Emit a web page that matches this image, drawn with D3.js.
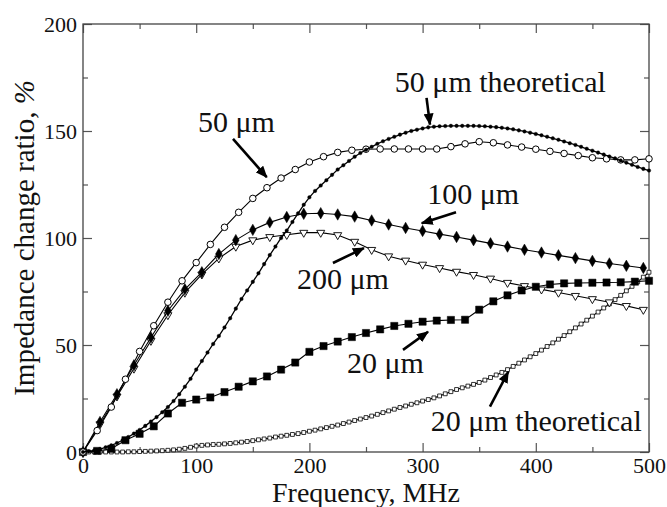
<!DOCTYPE html>
<html><head><meta charset="utf-8">
<script src="https://cdn.jsdelivr.net/npm/d3@7"></script>
<style>
body{margin:0;background:#fff}
svg{display:block}
svg text{font-family:"Liberation Serif","Times New Roman",Tinos,Times,"DejaVu Serif","Noto Serif",serif !important;fill:#111}
</style>
</head><body>
<svg id="c" width="667" height="507"></svg>
<script>
// ---------- data ----------
const xTicks = [0,100,200,300,400,500];
const yTicks = [0,50,100,150,200];
const xMinor = [50,150,250,350,450];
const yMinor = [25,75,125,175];

const freqA = [0,12.5,25,37.5,50,62.5,75,87.5,100,112.5,125,137.5,150,162.5,175,187.5,200,212.5,225,237.5,250,262.5,275,287.5,300,312.5,325,337.5,350,362.5,375,387.5,400,412.5,425,437.5,450,462.5,475,487.5,500];
const um50 = [0,10,21,34,47,59,70,80,88.5,97,105,112,118.5,123.5,128,132,135.5,138,140,141,141.5,141.6,141.6,141.6,141.6,141.6,142.7,144,145,144.5,143.5,142.5,141.5,140.5,139.5,138.5,137.5,137,136.5,136.5,137];
const um20 = [0,0.5,1.5,5.5,8.5,12,18,23,24.5,25.5,28,30.5,33,35.3,38.5,41.8,46.8,49.5,51.6,53.7,55.6,57.3,58.9,59.9,60.9,61.4,61.7,61.8,66.5,70.4,73.2,75.5,77.2,78.3,78.8,79,79.1,79.2,79.3,79.6,80];

const freqB = [0,15,30,45,60,75,90,105,120,135,150,165,180,195,210,225,240,255,270,285,300,315,330,345,360,375,390,405,420,435,450,465,480,495];
const um100 = [0,14,27,40.5,53.5,66,76,84,92.5,99,103.8,107.3,109.8,111.3,111.6,111,110,108.2,106.3,104.7,103.3,101.8,100.5,99,97.5,96,94.5,93.2,91.9,90.6,89.3,88.1,87,86];
const um200 = [0,13,26,39,52,64,74.5,83,90.5,96,99,100.5,101.5,102.5,102.5,101.4,98.3,94.5,91.5,89.5,87.6,86,84.3,82.8,81.1,79.1,77.6,76,74.5,73,71.5,70,68.3,66.5];

const freqC = [0,5,10,15,20,25,30,35,40,45,50,55,60,65,70,75,80,85,90,95,100,105,110,115,120,125,130,135,140,145,150,155,160,165,170,175,180,185,190,195,200,205,210,215,220,225,230,235,240,245,250,255,260,265,270,275,280,285,290,295,300,305,310,315,320,325,330,335,340,345,350,355,360,365,370,375,380,385,390,395,400,405,410,415,420,425,430,435,440,445,450,455,460,465,470,475,480,485,490,495,500];
const um50theory = [0,0.3,0.8,1.4,2.2,3.1,4.2,5.5,7,8.6,
  10.3,12.2,14.2,16.3,18.6,21,23.8,27,30.5,34.2,
  38.5,42.5,46.5,50.5,54.2,58.2,62.5,67,71.5,75.5,
  79.5,83.5,87.8,92,96,100,103.5,107.5,111.5,115.5,
  119,122,124.5,127,129.5,132,134,136,138,139.7,
  141.2,142.6,144,145.2,146.3,147.3,148.3,149.2,150,150.6,
  151.2,151.7,152,152.2,152.3,152.4,152.4,152.4,152.4,152.4,
  152.3,152.2,152,151.8,151.5,151.2,150.8,150.3,149.8,149.2,
  148.6,148,147.3,146.6,145.9,145.1,144.3,143.5,142.6,141.7,
  140.8,139.9,139,138.1,137.2,136.2,135.2,134.2,133.2,132.3,
  131.5];
const um20theory = [0,0,0,0,0,0,0,0,0.1,0.1,
  0.2,0.3,0.4,0.5,0.6,0.8,1,1.3,1.7,2.2,
  2.8,3.1,3.3,3.5,3.6,3.8,4,4.3,4.6,4.9,
  5.3,5.7,6.1,6.5,7,7.4,7.8,8.2,8.6,9.1,
  9.7,10.2,10.8,11.4,12,12.6,13.3,14,14.7,15.4,
  16.1,16.8,17.6,18.4,19.2,20,20.8,21.5,22.3,23,
  23.8,24.5,25.3,26.2,27.2,28.2,29.2,30,30.8,31.6,
  32.5,33.6,34.8,36,37.2,38.5,40,41.5,43,44.5,
  46,47.6,49.3,51,52.7,54.4,56.2,58,59.8,61.6,
  63.5,65.4,67.3,69.2,71.2,73.2,75.3,77.4,79.5,81.7,
  84];

const labels = ["50 \u03bcm","50 \u03bcm theoretical","100 \u03bcm","200 \u03bcm","20 \u03bcm","20 \u03bcm theoretical"];

// ---------- layout ----------
const FONT = '"Liberation Serif","Times New Roman",Tinos,Times,"DejaVu Serif","Noto Serif",serif';
const L = 83, R = 649, T = 24, B = 452;
const svg = d3.select("#c");
const x = d3.scaleLinear().domain([0,500]).range([L,R]);
const y = d3.scaleLinear().domain([0,200]).range([B,T]);

// axes (inward ticks on all sides)
svg.append("g").attr("transform",`translate(0,${B})`)
  .call(d3.axisBottom(x).tickValues(xTicks).tickSize(-9).tickPadding(5).tickFormat(d3.format("d")));
svg.append("g").attr("transform",`translate(${L},0)`)
  .call(d3.axisLeft(y).tickValues(yTicks).tickSize(-9).tickPadding(6).tickFormat(d3.format("d")));
svg.append("g").attr("transform",`translate(0,${B})`).call(d3.axisBottom(x).tickValues(xMinor).tickSize(-5).tickFormat(""));
svg.append("g").attr("transform",`translate(${L},0)`).call(d3.axisLeft(y).tickValues(yMinor).tickSize(-5).tickFormat(""));
svg.append("g").attr("transform",`translate(0,${T})`).call(d3.axisTop(x).tickValues(xTicks).tickSize(-9).tickFormat(""));
svg.append("g").attr("transform",`translate(0,${T})`).call(d3.axisTop(x).tickValues(xMinor).tickSize(-5).tickFormat(""));
svg.append("g").attr("transform",`translate(${R},0)`).call(d3.axisRight(y).tickValues(yTicks).tickSize(-9).tickFormat(""));
svg.append("g").attr("transform",`translate(${R},0)`).call(d3.axisRight(y).tickValues(yMinor).tickSize(-5).tickFormat(""));
svg.selectAll("g").attr("font-family",FONT);
svg.selectAll(".domain").remove();
svg.selectAll(".tick line").attr("stroke","#555").attr("stroke-width",1.2);
svg.selectAll(".tick text").attr("font-size",22).attr("font-family",FONT).attr("fill","#111");

svg.append("rect").attr("x",L).attr("y",T).attr("width",R-L).attr("height",B-T)
  .attr("fill","none").attr("stroke","#444").attr("stroke-width",1.3);

// axis titles
svg.append("text").attr("x",(L+R)/2).attr("y",502).attr("text-anchor","middle")
  .attr("font-family",FONT).attr("font-size",28).text("Frequency, MHz");
const yt = svg.append("text").attr("transform",`translate(34,${(T+B)/2}) rotate(-90)`)
  .attr("text-anchor","middle").attr("font-family",FONT).attr("font-size",29);
yt.append("tspan").text("Impedance change ratio, ");
yt.append("tspan").attr("font-style","italic").text("%");

// ---------- series ----------
const lineGen = d3.line().x(d=>x(d[0])).y(d=>y(d[1]));
function series(fr, vals, sym, opts){
  const pts = fr.map((f,i)=>[f,vals[i]]);
  const g = svg.append("g");
  g.append("path").datum(pts).attr("d",lineGen).attr("fill","none")
    .attr("stroke","#000").attr("stroke-width",opts.lw||1.1);
  g.selectAll("path.m").data(pts).join("path").attr("class","m")
    .attr("d", d3.symbol().type(sym).size(opts.size))
    .attr("transform", d=>`translate(${x(d[0])},${y(d[1])})${opts.rot?" rotate(180)":""}`)
    .attr("fill", opts.fill).attr("stroke","#000").attr("stroke-width",opts.sw||1);
}
series(freqC, um20theory, d3.symbolSquare, {size:15, fill:"#fff", sw:0.8});
series(freqB, um200, d3.symbolTriangle, {size:28, fill:"#fff", sw:0.9, rot:true});
series(freqA, um20, d3.symbolSquare, {size:52, fill:"#000", sw:0.5});
series(freqB, um100, d3.symbolDiamond, {size:38, fill:"#000", sw:0.5});
series(freqA, um50, d3.symbolCircle, {size:34, fill:"#fff", sw:1});
series(freqC, um50theory, d3.symbolCircle, {size:10, fill:"#000", sw:0.4, lw:1.3});

// ---------- annotations ----------
svg.append("defs").append("marker").attr("id","ah").attr("markerUnits","userSpaceOnUse")
  .attr("viewBox","0 0 12 10").attr("refX",11).attr("refY",5)
  .attr("markerWidth",12).attr("markerHeight",10).attr("orient","auto")
  .append("path").attr("d","M0,0 L12,5 L0,10 z").attr("fill","#000");

const notes = [
  {t:labels[0], tx:101.5, ty:149.5, a:[132.5,146.3,162.3,128.4]},
  {t:labels[1], tx:275.5, ty:168,   a:[303.5,165.5,306.5,153]},
  {t:labels[2], tx:304,   ty:115.9, a:[329.5,112,299.2,106.9]},
  {t:labels[3], tx:189,   ty:76.2,  a:[220.8,88.3,248.2,95.3]},
  {t:labels[4], tx:233.2, ty:36.9,  a:[282.7,47.7,304.8,56.2]},
  {t:labels[5], tx:307.2, ty:9.8,   a:[359.5,21.2,375.7,37.5]}
];
notes.forEach(n=>{
  svg.append("text").attr("x",x(n.tx)).attr("y",y(n.ty)).attr("font-family",FONT).attr("font-size",30).text(n.t);
  svg.append("line").attr("x1",x(n.a[0])).attr("y1",y(n.a[1])).attr("x2",x(n.a[2])).attr("y2",y(n.a[3]))
    .attr("stroke","#000").attr("stroke-width",2.6).attr("marker-end","url(#ah)");
});
</script>
</body></html>
